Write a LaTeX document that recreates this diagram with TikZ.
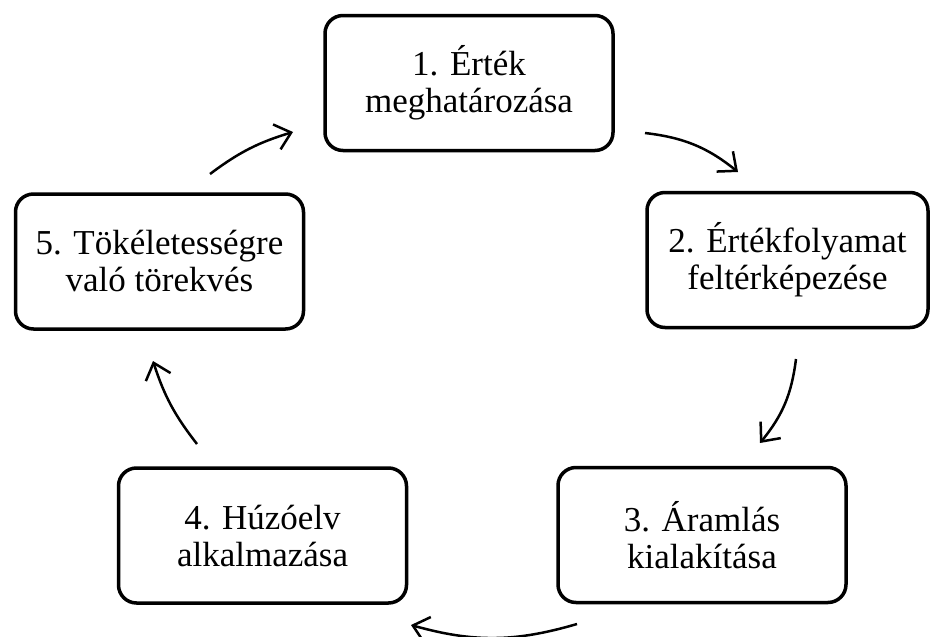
\documentclass[tikz,border=0pt]{standalone}
\usepackage{fontspec}
\setmainfont{Liberation Serif}
\usetikzlibrary{arrows.meta}
\begin{document}
\begin{tikzpicture}[x=1pt,y=-1pt,
  stepbox/.style={draw=black, line width=3.5pt, rounded corners=18pt,
    minimum width=288pt, minimum height=135pt, align=center, inner sep=0pt,
    font=\fontsize{35}{37}\selectfont},
  flow/.style={line width=2.5pt,
    -{Straight Barb[length=15pt,width=26pt,line width=2.5pt]}, bend left=16}]
\useasboundingbox (0,0) rectangle (930,637);

% process steps
\node[stepbox] (s1) at (469,83) {1. Érték\\meghatározása};
\node[stepbox, minimum width=281pt] (s2) at (787.5,260) {2. Értékfolyamat\\feltérképezése};
\node[stepbox] (s3) at (702,535) {3. Áramlás\\kialakítása};
\node[stepbox] (s4) at (262.5,535.5) {4. Húzóelv\\alkalmazása};
\node[stepbox] (s5) at (159.5,261.5) {5. Tökéletességre\\való törekvés};

% arrow end points between the steps
\coordinate (a12) at (645,133);  \coordinate (b12) at (738,172);
\coordinate (a23) at (796,359);  \coordinate (b23) at (760,443);
\coordinate (a34) at (577,624);  \coordinate (b34) at (411,625);
\coordinate (a45) at (197,444);  \coordinate (b45) at (153,361);
\coordinate (a51) at (210,174);  \coordinate (b51) at (293,132);

% cycle arrows
\draw[flow] (a12) to (b12);
\draw[flow] (a23) to (b23);
\draw[flow] (a34) to (b34);
\draw[flow, bend left=10] (a45) to (b45);
\draw[flow, bend left=10] (a51) to (b51);
\end{tikzpicture}
\end{document}
